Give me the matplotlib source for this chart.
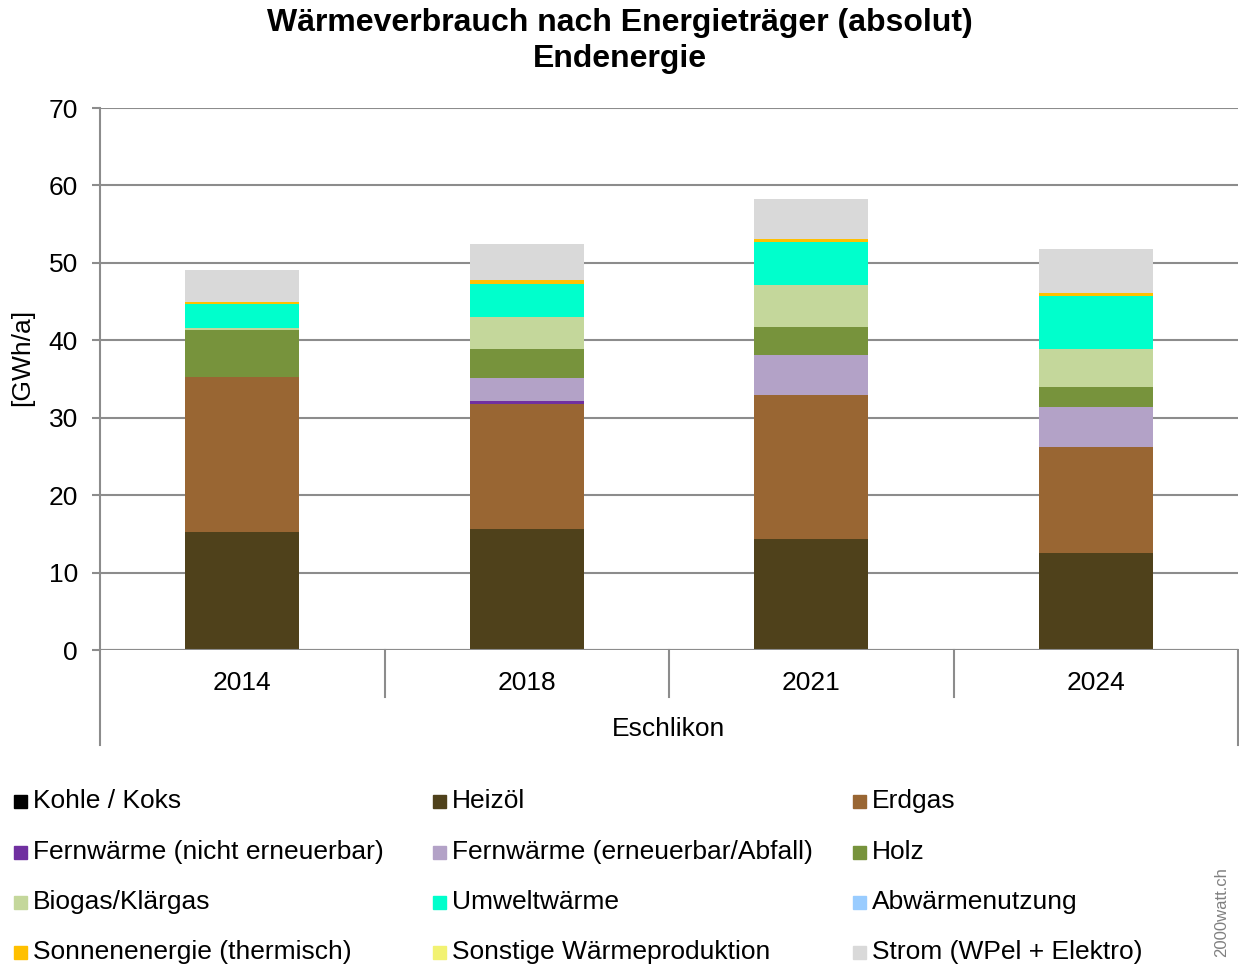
import matplotlib.pyplot as plt
from matplotlib.patches import Rectangle

plt.rcParams['font.family'] = ['Liberation Sans', 'DejaVu Sans']

years = ['2014', '2018', '2021', '2024']
group = 'Eschlikon'

# GWh/a je Energieträger, von unten nach oben gestapelt
kohle = [0, 0, 0, 0]
heizoel = [15.2, 15.6, 14.3, 12.5]
erdgas = [20.1, 16.2, 18.65, 13.7]
fw_nicht = [0, 0.3, 0.03, 0]
fw_ern = [0, 3.03, 5.07, 5.15]
holz = [6.07, 3.77, 3.66, 2.63]
biogas = [0.2, 4.15, 5.42, 4.83]
umwelt = [3.16, 4.25, 5.55, 6.92]
abwaerme = [0, 0, 0, 0]
sonne = [0.2, 0.55, 0.35, 0.43]
sonstige = [0, 0, 0, 0]
strom = [4.2, 4.6, 5.2, 5.6]

series = [
    ('Kohle / Koks', kohle, '#000000'),
    ('Heizöl', heizoel, '#4f411b'),
    ('Erdgas', erdgas, '#996633'),
    ('Fernwärme (nicht erneuerbar)', fw_nicht, '#7030a0'),
    ('Fernwärme (erneuerbar/Abfall)', fw_ern, '#b3a2c7'),
    ('Holz', holz, '#77933c'),
    ('Biogas/Klärgas', biogas, '#c4d79b'),
    ('Umweltwärme', umwelt, '#00ffcc'),
    ('Abwärmenutzung', abwaerme, '#99ccff'),
    ('Sonnenenergie (thermisch)', sonne, '#ffc000'),
    ('Sonstige Wärmeproduktion', sonstige, '#f2f272'),
    ('Strom (WPel + Elektro)', strom, '#d9d9d9'),
]

fig = plt.figure(figsize=(12.39, 9.66), dpi=100)
ax = fig.add_axes([100 / 1239, 316 / 966, 1138 / 1239, 542 / 966])

x = list(range(len(years)))
bottom = [0.0] * len(years)
for name, vals, col in series:
    ax.bar(x, vals, width=0.4, bottom=bottom, color=col, zorder=3)
    bottom = [b + v for b, v in zip(bottom, vals)]

grid_col = '#8c8c8c'
ax.set_ylim(0, 70)
ax.set_xlim(-0.5, 3.5)
ax.set_yticks(range(0, 71, 10))
ax.yaxis.grid(True, color=grid_col, linewidth=1.5, zorder=0)
for s in ['top', 'right', 'bottom']:
    ax.spines[s].set_visible(False)
ax.spines['left'].set_color(grid_col)
ax.spines['left'].set_linewidth(1.5)
ax.tick_params(axis='y', length=6, width=1.5, color=grid_col, labelsize=19, pad=10)
ax.set_xticks(x)
ax.set_xticklabels(years, fontsize=19)
ax.tick_params(axis='x', length=0, pad=15)
ax.axhline(0, color=grid_col, linewidth=1.5, zorder=4)

# Kategorien-Trennlinien unter der Achse
tr = ax.get_xaxis_transform()
for xs in [0.5, 1.5, 2.5]:
    ax.plot([xs, xs], [0, -0.0867], transform=tr, color=grid_col, lw=1.5, clip_on=False)
for xs in [-0.5, 3.5]:
    ax.plot([xs, xs], [0, -0.1753], transform=tr, color=grid_col, lw=1.5, clip_on=False)
ax.text(1.5, -0.145, group, transform=tr, ha='center', va='center', fontsize=19)

ax.set_ylabel('[GWh/a]', fontsize=19)
ax.yaxis.set_label_coords(-0.0575, 0.54)

fig.text(0.5, 1 - 23 / 966, 'Wärmeverbrauch nach Energieträger (absolut)', ha='center', va='center',
         fontsize=23, fontweight='bold')
fig.text(0.5, 1 - 59 / 966, 'Endenergie', ha='center', va='center', fontsize=23, fontweight='bold')

# Legende, zeilenweise in drei Spalten
col_x = [14, 433, 853]
row_y = [801, 852, 902, 952]
for i, (name, vals, col) in enumerate(series):
    px = col_x[i % 3]
    py = row_y[i // 3]
    fig.patches.append(Rectangle((px / 1239, 1 - (py + 6.5) / 966), 13 / 1239, 13 / 966,
                                 transform=fig.transFigure, color=col, figure=fig))
    fig.text((px + 19) / 1239, 1 - py / 966, name, ha='left', va='center', fontsize=19)

fig.text(1222 / 1239, 1 - 912 / 966, '2000watt.ch', rotation=90, ha='center', va='center',
         fontsize=12, color='#808080')

fig.savefig('out.png', dpi=100)
